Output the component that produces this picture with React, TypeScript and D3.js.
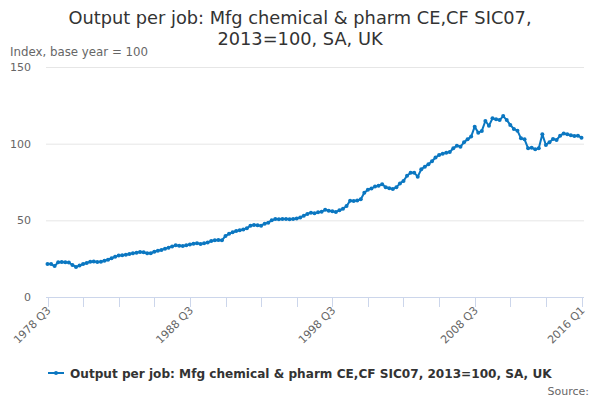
import { useEffect, useRef } from "react";
import * as d3 from "d3";

// quarterly values, 1978 Q3 .. 2016 Q1
const startYear = 1978;
const startQuarter = 3;
const values = [
  21.5, 21.5, 20.2, 22.6, 22.8, 22.6, 22.5, 20.9, 19.6, 20.5,
  21.5, 22.2, 23.0, 23.2, 22.8, 23.0, 23.6, 24.3, 25.3, 26.3,
  27.0, 27.2, 27.6, 28.0, 28.5, 28.8, 29.3, 29.2, 28.5, 28.6,
  29.5, 30.2, 30.7, 31.5, 32.2, 33.0, 33.7, 33.5, 33.3, 33.8,
  34.2, 34.8, 35.0, 34.6, 35.0, 35.6, 36.5, 37.0, 37.2, 37.0,
  39.8, 41.2, 42.2, 43.0, 43.5, 44.1, 44.8, 46.5, 47.0, 46.8,
  46.5, 47.8, 48.5, 50.0, 50.9, 50.7, 50.8, 50.9, 50.7, 50.9,
  51.2, 51.9, 53.0, 54.2, 55.0, 54.6, 55.2, 55.6, 56.9, 56.3,
  55.9, 55.4, 56.6, 57.5, 59.3, 62.8, 62.6, 63.0, 63.7, 68.0,
  70.0, 70.8, 72.0, 72.6, 73.5, 71.6, 71.0, 70.4, 71.5, 74.1,
  75.7, 79.1, 81.0, 81.1, 78.5, 83.3, 85.0, 86.5, 88.5, 91.0,
  92.6, 93.5, 94.0, 94.6, 97.0, 98.7, 98.0, 100.9, 102.8, 104.6,
  111.1, 107.2, 108.3, 114.8, 111.7, 116.5, 115.9, 115.4, 118.0, 115.4,
  112.2, 109.6, 108.5, 103.5, 102.8, 97.0, 97.4, 96.3, 97.0, 106.1,
  99.1, 100.9, 103.0, 102.4, 105.2, 106.7, 106.1, 105.5, 105.0, 105.2,
  103.9,
];
const yTicks = [0, 50, 100, 150];
const labelEvery = 40;
const tickEvery = 10;

const titleLines = [
  "Output per job: Mfg chemical & pharm CE,CF SIC07,",
  "2013=100, SA, UK",
];
const yAxisTitle = "Index, base year = 100";
const seriesName = "Output per job: Mfg chemical & pharm CE,CF SIC07, 2013=100, SA, UK";

const quarterLabel = (i: number) => {
  const q = startQuarter - 1 + i;
  return `${startYear + Math.floor(q / 4)} Q${(q % 4) + 1}`;
};

const width = 600;
const height = 400;
const font = "'DejaVu Sans', sans-serif";
const blue = "#0b77c1";

const App = () => {
  const ref = useRef<SVGSVGElement>(null);

  useEffect(() => {
    const svg = d3.select(ref.current);
    svg.selectAll("*").remove();

    const plotLeft = 46;
    const plotRight = 584;
    const x = d3.scaleLinear().domain([0, values.length - 1]).range([47.5, 581.5]);
    const y = d3.scaleLinear().domain([0, 150]).range([297, 67]);

    // title
    svg
      .append("text")
      .attr("x", width / 2)
      .attr("text-anchor", "middle")
      .attr("font-family", font)
      .attr("font-size", 17.8)
      .attr("fill", "#333333")
      .selectAll("tspan")
      .data(titleLines)
      .enter()
      .append("tspan")
      .attr("x", width / 2)
      .attr("y", (_d, i) => 24 + i * 21)
      .text((d) => d);

    svg
      .append("text")
      .attr("x", 10)
      .attr("y", 56)
      .attr("font-family", font)
      .attr("font-size", 11.8)
      .attr("fill", "#666666")
      .text(yAxisTitle);

    // grid lines + y labels
    const grid = svg.append("g");
    grid
      .selectAll("line")
      .data(yTicks.filter((t) => t > 0))
      .enter()
      .append("line")
      .attr("x1", plotLeft)
      .attr("x2", plotRight)
      .attr("y1", (d) => y(d) + 0.5)
      .attr("y2", (d) => y(d) + 0.5)
      .attr("stroke", "#e6e6e6");
    grid
      .selectAll("text")
      .data(yTicks)
      .enter()
      .append("text")
      .attr("x", 31)
      .attr("y", (d) => y(d) + 4)
      .attr("text-anchor", "end")
      .attr("font-family", font)
      .attr("font-size", 11)
      .attr("fill", "#666666")
      .text((d) => d);

    // x axis
    const xAxis = svg.append("g");
    xAxis
      .append("line")
      .attr("x1", plotLeft)
      .attr("x2", plotRight)
      .attr("y1", y(0) + 0.5)
      .attr("y2", y(0) + 0.5)
      .attr("stroke", "#ccd6eb");
    const tickIdx = d3.range(0, values.length, tickEvery);
    xAxis
      .selectAll("line.tick")
      .data(tickIdx)
      .enter()
      .append("line")
      .attr("class", "tick")
      .attr("x1", (d) => Math.round(x(d)) + 0.5)
      .attr("x2", (d) => Math.round(x(d)) + 0.5)
      .attr("y1", y(0))
      .attr("y2", y(0) + 10)
      .attr("stroke", "#ccd6eb");
    const labelIdx = d3.range(0, values.length, labelEvery).concat([values.length - 1]);
    xAxis
      .selectAll("text")
      .data(labelIdx)
      .enter()
      .append("text")
      .attr(
        "transform",
        (d) => `translate(${x(d) + 4},${y(0) + 14}) rotate(-45)`
      )
      .attr("text-anchor", "end")
      .attr("font-family", font)
      .attr("font-size", 11)
      .attr("fill", "#666666")
      .text((d) => quarterLabel(d));

    // series
    const line = d3
      .line<number>()
      .x((_d, i) => x(i))
      .y((d) => y(d));
    svg
      .append("path")
      .datum(values)
      .attr("fill", "none")
      .attr("stroke", blue)
      .attr("stroke-width", 2)
      .attr("stroke-linejoin", "round")
      .attr("d", line);
    svg
      .append("g")
      .selectAll("circle")
      .data(values)
      .enter()
      .append("circle")
      .attr("cx", (_d, i) => x(i))
      .attr("cy", (d) => y(d))
      .attr("r", 2)
      .attr("fill", blue);

    // legend
    const legend = svg.append("g").attr("transform", "translate(0,373)");
    legend
      .append("line")
      .attr("x1", 48)
      .attr("x2", 64)
      .attr("y1", 0)
      .attr("y2", 0)
      .attr("stroke", blue)
      .attr("stroke-width", 2);
    legend.append("circle").attr("cx", 56).attr("cy", 0).attr("r", 2).attr("fill", blue);
    legend
      .append("text")
      .attr("x", 70)
      .attr("y", 4.5)
      .attr("font-family", font)
      .attr("font-size", 12.1)
      .attr("font-weight", "bold")
      .attr("fill", "#333333")
      .text(seriesName);

    svg
      .append("text")
      .attr("x", 589)
      .attr("y", 395)
      .attr("text-anchor", "end")
      .attr("font-family", font)
      .attr("font-size", 11)
      .attr("fill", "#666666")
      .text("Source:");
  }, []);

  return (
    <svg
      ref={ref}
      width={width}
      height={height}
      style={{ position: "absolute", left: 0, top: 0, background: "#ffffff" }}
    />
  );
};

export default App;
